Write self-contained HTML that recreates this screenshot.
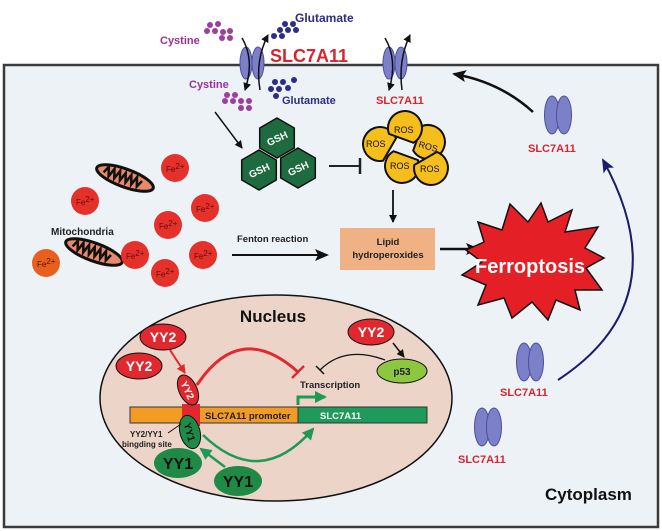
<!DOCTYPE html>
<html><head><meta charset="utf-8"><style>
html,body{margin:0;padding:0;background:#fff;}
svg{display:block;font-family:"Liberation Sans",sans-serif;font-weight:bold;}
</style></head><body>
<svg width="662" height="531" viewBox="0 0 662 531" xmlns="http://www.w3.org/2000/svg">
<defs>
<marker id="ab" markerWidth="8" markerHeight="8" refX="7" refY="4" orient="auto" markerUnits="userSpaceOnUse"><path d="M0,0 L8,4 L0,8 Z" fill="#111"/></marker>
<marker id="abig" markerWidth="14" markerHeight="12" refX="12" refY="6" orient="auto" markerUnits="userSpaceOnUse"><path d="M0,0 L14,6 L0,12 L3,6 Z" fill="#111"/></marker>
<marker id="an" markerWidth="14" markerHeight="12" refX="12" refY="6" orient="auto" markerUnits="userSpaceOnUse"><path d="M0,0 L14,6 L0,12 L3,6 Z" fill="#1c1c6e"/></marker>
<marker id="ag" markerWidth="12" markerHeight="12" refX="10" refY="6" orient="auto" markerUnits="userSpaceOnUse"><path d="M0,0 L12,6 L0,12 Z" fill="#1e9a55"/></marker>
<marker id="ar" markerWidth="9" markerHeight="9" refX="8" refY="4.5" orient="auto" markerUnits="userSpaceOnUse"><path d="M0,0 L9,4.5 L0,9 Z" fill="#e02a2e"/></marker>
<g id="prot"><ellipse cx="-6" cy="0" rx="7.5" ry="19" fill="#7c80c8" stroke="#4c4f9c"/><ellipse cx="6" cy="0" rx="7.5" ry="19" fill="#7c80c8" stroke="#4c4f9c"/></g>
<g id="tp"><ellipse cx="-6" cy="0" rx="6" ry="16" fill="#7c80c8" stroke="#4c4f9c"/><ellipse cx="6" cy="0" rx="6" ry="16" fill="#7c80c8" stroke="#4c4f9c"/></g>
<g id="fe"><circle r="14" fill="#e5312a"/><text x="-9" y="4" font-size="8" fill="#5a1010" font-weight="normal">Fe<tspan dy="-3">2+</tspan></text></g>
<g id="mito"><ellipse rx="30" ry="9" fill="#e8896a" stroke="#111" stroke-width="3"/><path d="M-22,2 l3,-7 l3,9 l3,-9 l3,9 l3,-9 l3,9 l3,-9 l3,9 l3,-9 l3,9 l3,-9 l3,9 l3,-7" fill="none" stroke="#111" stroke-width="2.5"/></g>
<polygon id="hex" points="0,-20 17.3,-10 17.3,10 0,20 -17.3,10 -17.3,-10" fill="#1d6b3e" stroke="#111" stroke-width="1.5"/>
<path id="ros" d="M13,11 A17,17 0 1 0 -13,11 Z" fill="#f5be1a" stroke="#111" stroke-width="2"/>
</defs>
<rect x="4" y="65" width="654" height="462" fill="#edf2f7" stroke="#3a3a3a" stroke-width="2.5"/>
<!-- top labels -->
<text x="160" y="44" font-size="11" fill="#9b2f9b">Cystine</text>
<text x="295" y="22" font-size="12" fill="#2c2c8a">Glutamate</text>
<text x="270" y="62" font-size="18" fill="#d6252e">SLC7A11</text>
<g fill="#9b3fa0"><circle cx="210" cy="25" r="3"/><circle cx="218" cy="24" r="3"/><circle cx="207" cy="31" r="3"/><circle cx="215" cy="31" r="3"/><circle cx="223" cy="32" r="3"/><circle cx="230" cy="31" r="3"/><circle cx="222" cy="38" r="3"/><circle cx="230" cy="38" r="3"/></g>
<g fill="#2c2c8a"><circle cx="285" cy="24" r="3"/><circle cx="293" cy="24" r="3"/><circle cx="280" cy="30" r="3"/><circle cx="288" cy="30" r="3"/><circle cx="296" cy="30" r="3"/><circle cx="274" cy="36" r="3"/><circle cx="282" cy="36" r="3"/></g>
<use href="#tp" x="252" y="63"/>
<path d="M242,38 Q255,60 245,90" fill="none" stroke="#111" stroke-width="1.5" marker-end="url(#ab)"/>
<path d="M260,90 Q255,60 268,35" fill="none" stroke="#111" stroke-width="1.5" marker-end="url(#ab)"/>
<text x="189" y="88" font-size="11" fill="#9b2f9b">Cystine</text>
<g fill="#9b3fa0"><circle cx="227" cy="95" r="3"/><circle cx="235" cy="95" r="3"/><circle cx="225" cy="101" r="3"/><circle cx="233" cy="101" r="3"/><circle cx="241" cy="101" r="3"/><circle cx="249" cy="101" r="3"/><circle cx="241" cy="108" r="3"/><circle cx="249" cy="108" r="3"/></g>
<g fill="#2c2c8a"><circle cx="275" cy="82" r="3"/><circle cx="283" cy="82" r="3"/><circle cx="294" cy="80" r="3"/><circle cx="271" cy="89" r="3"/><circle cx="279" cy="89" r="3"/><circle cx="288" cy="88" r="3"/><circle cx="276" cy="96" r="3"/></g>
<text x="282" y="104" font-size="11" fill="#2c2c8a">Glutamate</text>
<use href="#tp" x="395" y="63"/>
<path d="M385,38 Q398,60 389,90" fill="none" stroke="#111" stroke-width="1.5" marker-end="url(#ab)"/>
<path d="M402,90 Q398,60 410,35" fill="none" stroke="#111" stroke-width="1.5" marker-end="url(#ab)"/>
<text x="376" y="104" font-size="11" fill="#d6252e">SLC7A11</text>
<path d="M533,112 Q500,82 454,74" fill="none" stroke="#111" stroke-width="2.5" marker-end="url(#abig)"/>
<use href="#prot" x="558" y="115"/>
<text x="528" y="152" font-size="11" fill="#d6252e">SLC7A11</text>
<path d="M558,380 Q680,300 603,160" fill="none" stroke="#1c1c6e" stroke-width="2" marker-end="url(#an)"/>
<path d="M215,112 L242,148" stroke="#111" stroke-width="1.5" marker-end="url(#ab)"/>
<!-- GSH -->
<g font-size="10" fill="#fff" text-anchor="middle">
<use href="#hex" x="277" y="138"/><text x="277" y="142" transform="rotate(-25 277 138)">GSH</text>
<use href="#hex" x="259" y="170"/><text x="259" y="174" transform="rotate(-25 259 170)">GSH</text>
<use href="#hex" x="298" y="168"/><text x="298" y="172" transform="rotate(-25 298 168)">GSH</text>
</g>
<path d="M329,166 L359,166" stroke="#222" stroke-width="2"/><path d="M360,158 L360,174" stroke="#222" stroke-width="2.5"/>
<!-- ROS -->
<use href="#ros" transform="translate(428,142) rotate(110)"/>
<use href="#ros" transform="translate(380,144) rotate(-60)"/>
<use href="#ros" transform="translate(402,166) rotate(200)"/>
<use href="#ros" transform="translate(431,168) rotate(150)"/>
<use href="#ros" transform="translate(405,128) rotate(20)"/>
<g font-size="9" fill="#111" font-weight="normal">
<text x="394" y="133">ROS</text>
<text x="366" y="147">ROS</text>
<text x="418" y="147" transform="rotate(15 418 147)">ROS</text>
<text x="390" y="169">ROS</text>
<text x="420" y="172">ROS</text>
</g>
<path d="M393,190 L393,222" stroke="#111" stroke-width="1.8" marker-end="url(#ab)"/>
<rect x="340" y="228" width="95" height="42" fill="#f0b184"/>
<text x="388" y="245" font-size="9.5" text-anchor="middle" fill="#222">Lipid</text>
<text x="388" y="258" font-size="9.5" text-anchor="middle" fill="#222">hydroperoxides</text>
<path d="M440,249 L478,249" stroke="#111" stroke-width="2.5" marker-end="url(#abig)"/>
<polygon points="478,222 502,230 510,204 528,222 541,203 548,222 572,210 565,232 598,227 585,248 604,258 586,268 602,290 575,290 580,310 556,300 548,320 532,302 512,318 504,298 478,305 486,285 462,275 482,262 466,250 484,242" fill="#e41f26" stroke="#111" stroke-width="1.5"/>
<text x="530" y="273" font-size="20" fill="#fff" text-anchor="middle">Ferroptosis</text>
<text x="237" y="242" font-size="9.5" fill="#222">Fenton reaction</text>
<path d="M232,255 L327,255" stroke="#111" stroke-width="2" marker-end="url(#abig)"/>
<use href="#mito" transform="translate(125,178) rotate(20)"/>
<use href="#mito" transform="translate(94,252) rotate(20)"/>
<text x="51" y="235" font-size="10" fill="#222">Mitochondria</text>
<use href="#fe" x="175" y="168"/><use href="#fe" x="85" y="201"/><use href="#fe" x="205" y="208"/><use href="#fe" x="168" y="225"/><use href="#fe" x="135" y="255"/><use href="#fe" x="203" y="255"/><use href="#fe" x="165" y="273"/>
<g><circle cx="46" cy="263" r="14" fill="#e8601e"/><text x="37" y="267" font-size="8" fill="#5a1010" font-weight="normal">Fe<tspan dy="-3">2+</tspan></text></g>
<!-- nucleus -->
<ellipse cx="276" cy="398" rx="176" ry="103" fill="#ecd4c8" stroke="#111" stroke-width="1.5"/>
<text x="273" y="322" font-size="17" text-anchor="middle" fill="#111">Nucleus</text>
<rect x="130" y="407" width="168" height="16" fill="#f29c26" stroke="#333"/>
<rect x="298" y="407" width="129" height="16" fill="#1e9a5a" stroke="#333"/>
<rect x="182" y="404" width="18" height="22" fill="#e0282e"/>
<text x="205" y="419" font-size="9.5" fill="#222">SLC7A11 promoter</text>
<text x="320" y="419" font-size="9.5" fill="#fff">SLC7A11</text>
<g font-size="14" fill="#fff" text-anchor="middle">
<ellipse cx="163" cy="337" rx="23" ry="13" fill="#e0282e" stroke="#111"/><text x="163" y="342">YY2</text>
<ellipse cx="139" cy="366" rx="23" ry="13" fill="#e0282e" stroke="#111"/><text x="139" y="371">YY2</text>
<ellipse cx="371" cy="332" rx="23" ry="13" fill="#e0282e" stroke="#111"/><text x="371" y="337">YY2</text>
</g>
<g transform="translate(188,390) rotate(65)"><ellipse rx="16" ry="9" fill="#e0282e" stroke="#111"/><text y="4" font-size="10" fill="#fff" text-anchor="middle">YY2</text></g>
<path d="M170,350 L185,373" stroke="#e02a2e" stroke-width="2" marker-end="url(#ar)"/>
<path d="M197,385 Q240,320 298,372" fill="none" stroke="#e02a2e" stroke-width="3"/>
<path d="M292,378 L304,366" stroke="#e02a2e" stroke-width="2.5"/>
<ellipse cx="402" cy="371" rx="25" ry="12" fill="#8dc63f" stroke="#111"/>
<text x="402" y="375" font-size="10" text-anchor="middle" fill="#222">p53</text>
<path d="M393,343 L404,357" stroke="#111" stroke-width="1.5" marker-end="url(#ab)"/>
<path d="M385,360 Q345,345 320,370" fill="none" stroke="#111" stroke-width="1.3"/>
<path d="M316,366 L324,374" stroke="#111" stroke-width="1.5"/>
<text x="300" y="388" font-size="9.5" fill="#222">Transcription</text>
<path d="M298,405 L298,397 L325,397" fill="none" stroke="#1e9a55" stroke-width="3" marker-end="url(#ag)"/>
<g transform="translate(190,432) rotate(75)"><ellipse rx="17" ry="10" fill="#1e8a45" stroke="#111"/><text y="4" font-size="10" fill="#111" text-anchor="middle">YY1</text></g>
<g font-size="16" fill="#111" text-anchor="middle">
<ellipse cx="178" cy="463" rx="24" ry="15" fill="#1e8a45"/><text x="178" y="469">YY1</text>
<ellipse cx="238" cy="481" rx="24" ry="15" fill="#1e8a45"/><text x="238" y="487">YY1</text>
</g>
<path d="M225,467 L201,449" stroke="#1e9a55" stroke-width="2.5" marker-end="url(#ag)"/>
<path d="M203,435 Q260,490 313,429" fill="none" stroke="#1e9a55" stroke-width="2.5" marker-end="url(#ag)"/>
<text x="130" y="437" font-size="8" fill="#222">YY2/YY1</text>
<text x="122" y="447" font-size="8" fill="#222">bingding site</text>
<path d="M168,433 L181,424" stroke="#111" stroke-width="1"/>
<use href="#prot" x="530" y="362"/>
<text x="500" y="396" font-size="11" fill="#d6252e">SLC7A11</text>
<use href="#prot" x="488" y="427"/>
<text x="458" y="463" font-size="11" fill="#d6252e">SLC7A11</text>
<text x="545" y="500" font-size="17" fill="#111">Cytoplasm</text>
</svg>
</body></html>
